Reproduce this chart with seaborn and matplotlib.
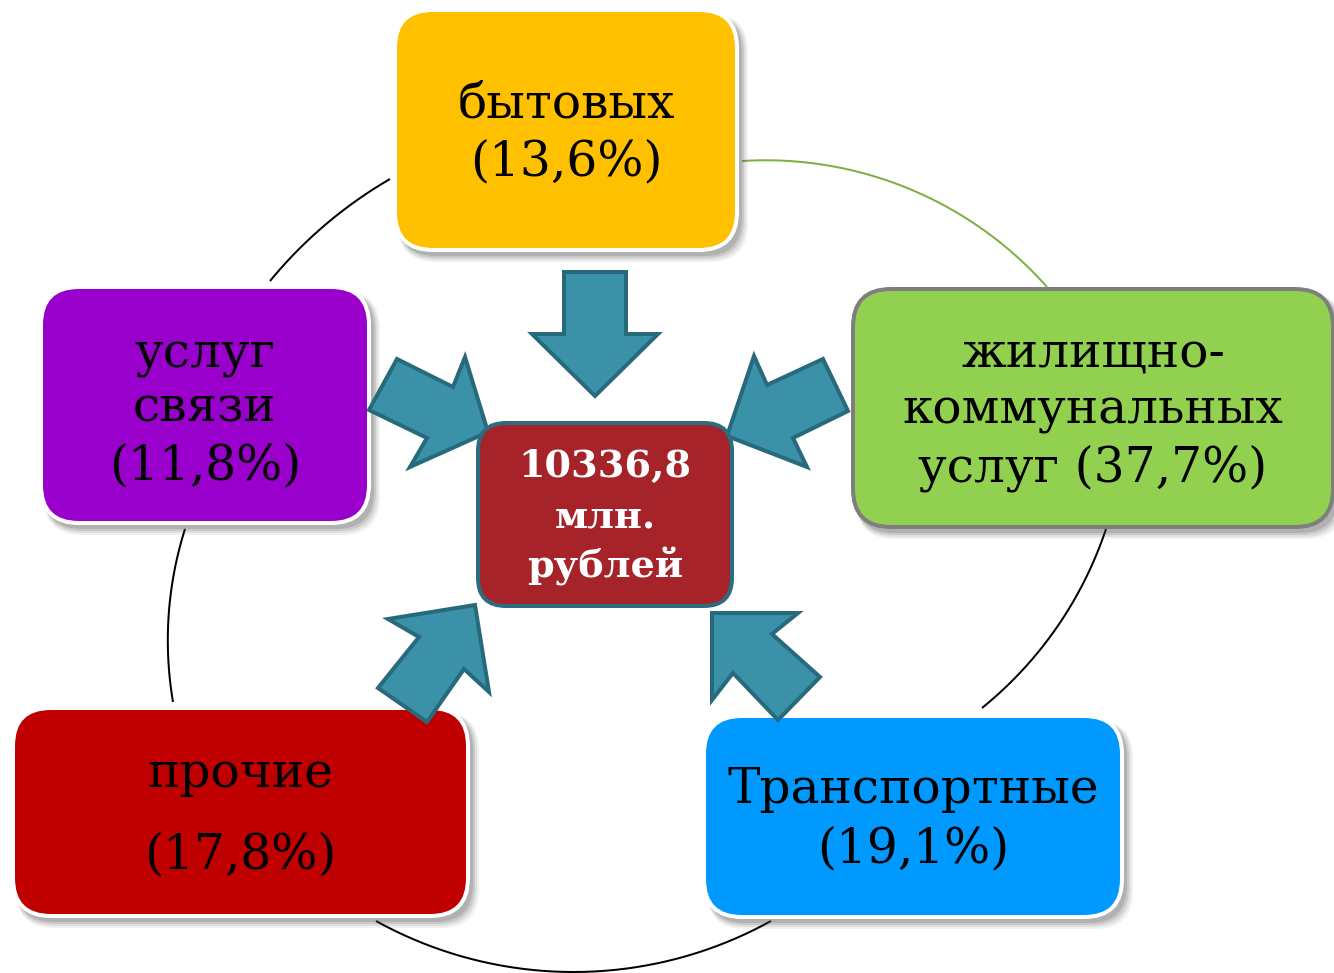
import numpy as np
import matplotlib
matplotlib.use("Agg")
import matplotlib.pyplot as plt
import seaborn as sns
from matplotlib.patches import FancyBboxPatch, Polygon

sns.set_theme(style="white")
plt.rcParams['font.family'] = ['DejaVu Serif', 'DejaVu Sans']

# ---- data ----
categories = ["бытовых", "жилищно-коммунальных услуг", "Транспортные", "прочие", "услуг связи"]
shares = [13.6, 37.7, 19.1, 17.8, 11.8]
total_value = "10336,8"
total_unit = ["млн.", "рублей"]
line_texts = [
    ["бытовых", "(13,6%)"],
    ["жилищно-", "коммунальных", "услуг (37,7%)"],
    ["Транспортные", "(19,1%)"],
    ["прочие", "(17,8%)"],
    ["услуг", "связи", "(11,8%)"],
]
box_colors = ["#FFC000", "#92D050", "#0099FF", "#C00000", "#9900CC"]

# ---- layout (pixel space) ----
W, H = 1334, 973
fig = plt.figure(figsize=(W / 100, H / 100), dpi=100)
ax = fig.add_axes([0, 0, 1, 1])
ax.set_xlim(0, W)
ax.set_ylim(H, 0)
ax.axis("off")

PX = 72 / 100  # points per pixel

# box geometry: x0, y0, x1, y1
boxes = [
    (395, 10, 737, 250),
    (853, 289, 1333, 527),
    (704, 716, 1122, 917),
    (13, 708, 468, 916),
    (41, 287, 369, 523),
]
edge_colors = ["white", "#7F7F7F", "white", "white", "white"]
baselines = [
    [118, 175],
    [368, 423, 481],
    [803, 862],
    [787, 868],
    [367, 421, 479],
]


def arc3(p1, p2, p3, n=200):
    (x1, y1), (x2, y2), (x3, y3) = p1, p2, p3
    d = 2 * (x1 * (y2 - y3) + x2 * (y3 - y1) + x3 * (y1 - y2))
    ux = ((x1**2 + y1**2) * (y2 - y3) + (x2**2 + y2**2) * (y3 - y1) + (x3**2 + y3**2) * (y1 - y2)) / d
    uy = ((x1**2 + y1**2) * (x3 - x2) + (x2**2 + y2**2) * (x1 - x3) + (x3**2 + y3**2) * (x2 - x1)) / d
    r = np.hypot(x1 - ux, y1 - uy)
    a1 = np.arctan2(y1 - uy, x1 - ux)
    a2 = np.arctan2(y2 - uy, x2 - ux)
    a3 = np.arctan2(y3 - uy, x3 - ux)

    def norm(a):
        return (a - a1) % (2 * np.pi)
    if norm(a2) < norm(a3):
        t = np.linspace(a1, a1 + norm(a3), n)
    else:
        t = np.linspace(a1, a1 - (2 * np.pi - norm(a3)), n)
    return ux + r * np.cos(t), uy + r * np.sin(t)


arcs = [
    ((390, 179), (325, 225), (270, 281), "black"),
    ((742, 161), (897, 184), (1047, 287), "#7FAF3F"),
    ((1106, 529), (1070, 607), (982, 708), "black"),
    ((376, 921), (575, 972), (771, 921), "black"),
    ((185, 529), (168, 628), (173, 702), "black"),
]
for p1, p2, p3, c in arcs:
    xs, ys = arc3(p1, p2, p3)
    ax.plot(xs, ys, color=c, lw=2.0 * PX, zorder=1, solid_capstyle="butt")


def rbox(x0, y0, x1, y1, fc, ec, lw_px, r, z, shadow=True):
    if shadow:
        for k, a in [(10, 0.07), (8, 0.10), (6, 0.14), (4, 0.18)]:
            sp = FancyBboxPatch((x0 + 3, y0 + 4), x1 - x0 + k - 2, y1 - y0 + k - 2,
                                boxstyle=f"round,pad=0,rounding_size={r}",
                                fc="#444444", ec="none", alpha=a, zorder=z - 0.5)
            ax.add_patch(sp)
    p = FancyBboxPatch((x0, y0), x1 - x0, y1 - y0,
                       boxstyle=f"round,pad=0,rounding_size={r}",
                       fc=fc, ec=ec, lw=lw_px * PX, zorder=z)
    ax.add_patch(p)


for (x0, y0, x1, y1), fc, ec, lines, bls in zip(boxes, box_colors, edge_colors, line_texts, baselines):
    rbox(x0, y0, x1, y1, fc, ec, 4, 38, 2)
    cx = (x0 + x1) / 2
    for t, b in zip(lines, bls):
        ax.text(cx, b, t, ha="center", va="baseline", fontsize=35,
                color="black", zorder=3)

# arrows (polygons pointing to the centre)
arrows = [
    [(564, 272), (626, 272), (626, 334), (658, 334), (595, 396), (532, 334), (564, 334)],
    [(727, 436), (754, 356), (767, 385), (823, 359), (848, 411), (793, 438), (807, 467)],
    [(712, 613), (798, 613), (772, 634), (820, 677), (778, 720), (733, 673), (712, 700)],
    [(475, 605), (489, 692), (464, 669), (427, 722), (378, 688), (419, 637), (388, 619)],
    [(488, 432), (410, 467), (427, 438), (369, 410), (397, 359), (453, 387), (465, 357)],
]
for pts in arrows:
    ax.add_patch(Polygon(pts, closed=True, fc="#3A91A8", ec="#276A7B",
                         lw=4 * PX, joinstyle="miter", zorder=4))

# centre box
rbox(478, 423, 732, 606, "#A6232A", "#2B6D7E", 4, 28, 5, shadow=False)
for t, b in zip([total_value] + total_unit, [477, 528, 578]):
    ax.text(605, b, t, ha="center", va="baseline", fontsize=27.5, fontweight="bold",
            color="white", zorder=6)

fig.savefig("out.png", dpi=100, facecolor="white")
